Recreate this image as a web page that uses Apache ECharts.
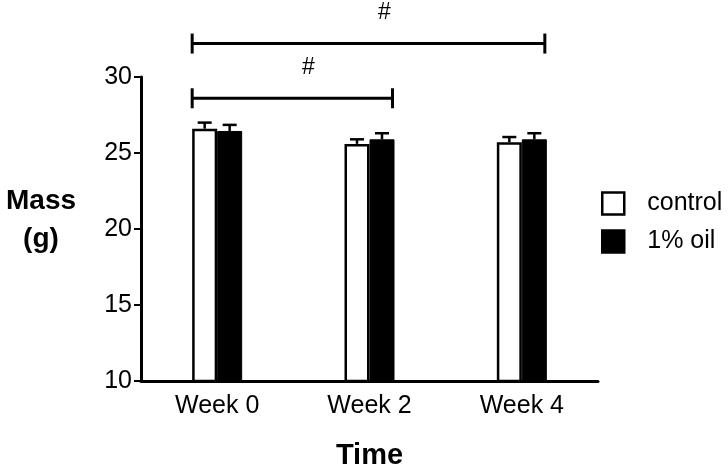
<!DOCTYPE html>
<html>
<head>
<meta charset="utf-8">
<script src="https://cdn.jsdelivr.net/npm/echarts@6/dist/echarts.min.js"></script>
<style>
html,body{margin:0;padding:0;background:#fff;}
#chart{width:728px;height:469px;}
</style>
</head>
<body>
<div id="chart"></div>
<script>
const categories = ['Week 0', 'Week 2', 'Week 4'];
const seriesNames = ['control', '1% oil'];
const controlMean = [26.6, 25.6, 25.7];
const controlErr = [0.4, 0.3, 0.35];
const oilMean = [26.45, 25.9, 25.9];
const oilErr = [0.4, 0.4, 0.4];
const yTicks = [10, 15, 20, 25, 30];
const yTitle = 'Mass\n(g)';
const xTitle = 'Time';
// brackets: [start category index, end category index, y value, label]
const brackets = [
  [0, 1, 28.6, '#'],
  [0, 2, 32.2, '#']
];

const FONT = '"Liberation Sans", Arial, Helvetica, sans-serif';
const BAR_W = 25;

const chart = echarts.init(document.getElementById('chart'), null, {renderer: 'canvas'});

function errSeries(means, errs, side) {
  return {
    type: 'custom',
    z: 5,
    clip: false,
    data: means.map((m, i) => [i, m, errs[i]]),
    renderItem: function (params, api) {
      const i = api.value(0);
      const m = api.value(1);
      const e = api.value(2);
      const p0 = api.coord([i, m]);
      const p1 = api.coord([i, m + e]);
      const x = p0[0] + side * BAR_W / 2;
      const half = 7;
      return {
        type: 'group',
        children: [
          {type: 'line', shape: {x1: x, y1: p0[1], x2: x, y2: p1[1]}, style: {stroke: '#000', lineWidth: 2.5}},
          {type: 'line', shape: {x1: x - half, y1: p1[1], x2: x + half, y2: p1[1]}, style: {stroke: '#000', lineWidth: 2.5}}
        ]
      };
    }
  };
}

const option = {
  animation: false,
  backgroundColor: '#fff',
  textStyle: {fontFamily: FONT, color: '#000'},
  title: {
    text: yTitle,
    left: 41,
    top: 182,
    padding: 0,
    textAlign: 'center',
    textStyle: {fontFamily: FONT, fontSize: 28, fontWeight: 'bold', color: '#000', lineHeight: 38}
  },
  grid: {left: 141, right: 130, top: 77, bottom: 88, containLabel: false, outerBoundsMode: 'none'},
  legend: {
    orient: 'vertical',
    left: 601,
    top: 191,
    padding: 0,
    itemWidth: 22,
    itemHeight: 22,
    itemGap: 13,
    icon: 'rect',
    data: seriesNames,
    textStyle: {fontFamily: FONT, fontSize: 25, color: '#000', padding: [0, 0, 0, 18]},
    itemStyle: {borderWidth: 2.5, borderColor: '#000'}
  },
  xAxis: {
    type: 'category',
    data: categories,
    name: xTitle,
    nameLocation: 'middle',
    nameGap: 60,
    nameTextStyle: {fontFamily: FONT, fontSize: 29, fontWeight: 'bold', color: '#000'},
    axisLine: {lineStyle: {color: '#000', width: 3}},
    axisTick: {alignWithLabel: true, length: 7, lineStyle: {color: '#000', width: 2}},
    axisLabel: {fontFamily: FONT, fontSize: 25, color: '#000', margin: 13},
    splitLine: {show: false}
  },
  yAxis: {
    type: 'value',
    min: yTicks[0],
    max: yTicks[yTicks.length - 1],
    interval: yTicks[1] - yTicks[0],
    axisLine: {show: true, lineStyle: {color: '#000', width: 3}},
    axisTick: {show: true, length: 7, lineStyle: {color: '#000', width: 2}},
    axisLabel: {fontFamily: FONT, fontSize: 25, color: '#000', margin: 9},
    splitLine: {show: false}
  },
  series: [
    {
      name: seriesNames[0],
      type: 'bar',
      data: controlMean,
      barWidth: BAR_W,
      barGap: '0%',
      itemStyle: {color: '#fff', borderColor: '#000', borderWidth: 2.5}
    },
    {
      name: seriesNames[1],
      type: 'bar',
      data: oilMean,
      barWidth: BAR_W,
      itemStyle: {color: '#000', borderColor: '#000', borderWidth: 1}
    },
    errSeries(controlMean, controlErr, -1),
    errSeries(oilMean, oilErr, 1),
    {
      type: 'custom',
      z: 6,
      clip: false,
      data: brackets,
      renderItem: function (params, api) {
        const s = api.value(0);
        const e = api.value(1);
        const y = api.value(2);
        const ps = api.coord([s, y]);
        const pe = api.coord([e, y]);
        const x1 = ps[0] - BAR_W;
        const x2 = pe[0] + BAR_W - 2;
        const yy = ps[1];
        const label = brackets[params.dataIndex][3];
        return {
          type: 'group',
          children: [
            {type: 'line', shape: {x1: x1, y1: yy, x2: x2, y2: yy}, style: {stroke: '#000', lineWidth: 3}},
            {type: 'line', shape: {x1: x1, y1: yy - 10, x2: x1, y2: yy + 10}, style: {stroke: '#000', lineWidth: 3}},
            {type: 'line', shape: {x1: x2, y1: yy - 10, x2: x2, y2: yy + 10}, style: {stroke: '#000', lineWidth: 3}},
            {type: 'text', style: {text: label, x: (x1 + x2) / 2 + 16, y: yy - 31, textAlign: 'center', textVerticalAlign: 'middle', font: '23px ' + FONT, fill: '#000'}}
          ]
        };
      }
    }
  ]
};
chart.setOption(option);
</script>
</body>
</html>
